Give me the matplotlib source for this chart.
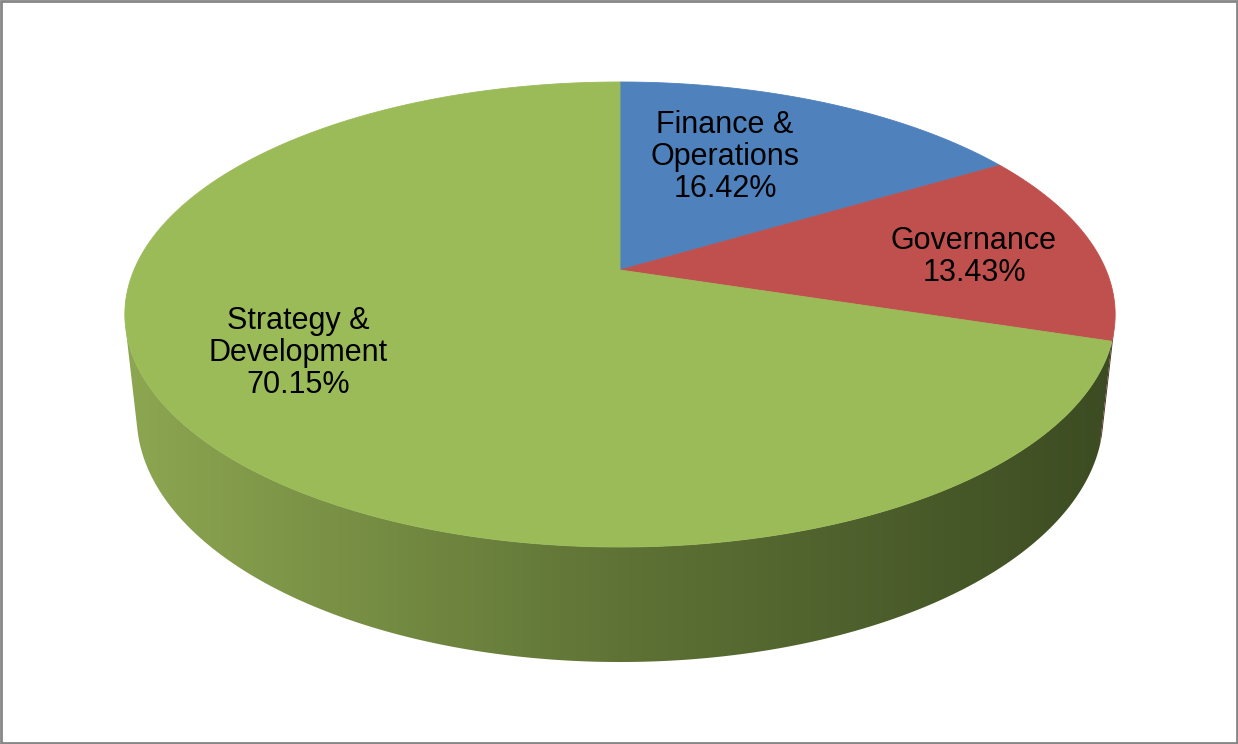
import numpy as np
import matplotlib
matplotlib.use("Agg")
import matplotlib.pyplot as plt
from matplotlib.patches import Polygon, Rectangle

plt.rcParams["font.family"] = ["Liberation Sans", "DejaVu Sans"]

# slice data (clockwise from 12 o'clock)
labels = ["Finance &\nOperations", "Governance", "Strategy &\nDevelopment"]
shares = [16.42, 13.43, 70.15]
colors = ["#4F81BD", "#C0504D", "#9BBB59"]
label_pos = [(725, 157), (974, 257), (298, 353)]

# side wall shading stops (screen x fraction -> rgb)
wall_stops = [0.0, 0.5, 1.0]
wall_rgb = [(0.56, 0.66, 0.32), (0.37, 0.45, 0.21), (0.23, 0.29, 0.13)]

W, H_PX = 1238, 744
CX, CY = 620.0, 270.0          # screen position of the pie centre
ELEV = np.arcsin(224 / 486)    # camera elevation
DIST = np.cos(ELEV) / 0.1914   # camera distance (unit radius)
FOCAL = 486 * DIST
DEPTH = 0.237                  # pie thickness


def project(beta, z=0.0):
    """Map angle (deg clockwise from back) at height z to screen pixels."""
    b = np.radians(beta)
    u, v = np.sin(b), -np.cos(b)
    se, ce = np.sin(ELEV), np.cos(ELEV)
    d = DIST - v * ce - z * se
    x = CX + FOCAL * u / d
    y = CY + FOCAL * (v * se - z * ce) / d
    return np.column_stack([x, y])


fig = plt.figure(figsize=(W / 100, H_PX / 100), dpi=100)
ax = fig.add_axes([0, 0, 1, 1])
ax.set_xlim(0, W)
ax.set_ylim(H_PX, 0)
ax.axis("off")

edges = np.concatenate([[0], np.cumsum(shares)]) * 3.6
vis_lo = np.degrees(np.arccos(-1 / (DIST * np.cos(ELEV))))
vis_hi = 360 - vis_lo

# horizontal gradient used to shade the outer wall
x_left, x_right = project(np.array([vis_hi]))[0, 0] - 20, project(np.array([vis_lo]))[0, 0] + 20
grad_x = np.linspace(0, 1, 400)
grad = np.stack([np.interp(grad_x, wall_stops, [c[i] for c in wall_rgb]) for i in range(3)], axis=-1)
grad = grad[np.newaxis, :, :]

# visible part of the outer wall, per slice (front half only)
for i in range(len(shares)):
    b0, b1 = max(edges[i], vis_lo), min(edges[i + 1], vis_hi)
    if b1 <= b0:
        continue
    bs = np.linspace(b0, b1, 300)
    top = project(bs, 0.0)
    bot = project(bs[::-1], -DEPTH)
    poly = Polygon(np.vstack([top, bot]), closed=True, facecolor="none",
                   edgecolor="none")
    ax.add_patch(poly)
    if i == len(shares) - 1:
        im = ax.imshow(grad, extent=[x_left, x_right, 700, 250], aspect="auto",
                       zorder=1, interpolation="bilinear")
        im.set_clip_path(poly)
    else:
        base = np.array(matplotlib.colors.to_rgb(colors[i]))
        poly.set_facecolor(base * 0.45)
        poly.set_zorder(1)

# top faces
centre = np.array([[CX, CY]])
for i in range(len(shares)):
    bs = np.linspace(edges[i], edges[i + 1], 400)
    pts = np.vstack([centre, project(bs, 0.0)])
    ax.add_patch(Polygon(pts, closed=True, facecolor=colors[i],
                         edgecolor=colors[i], lw=0.6, zorder=2))

for lab, val, (x, y) in zip(labels, shares, label_pos):
    ax.text(x, y, f"{lab}\n{val:.2f}%", ha="center", va="center",
            fontsize=22, color="black", linespacing=1.1, zorder=3)

# chart area border
ax.add_patch(Rectangle((1, 1), W - 2, H_PX - 2, facecolor="none",
                       edgecolor="#868686", lw=2.0, zorder=4))

fig.savefig("out.png", dpi=100)
